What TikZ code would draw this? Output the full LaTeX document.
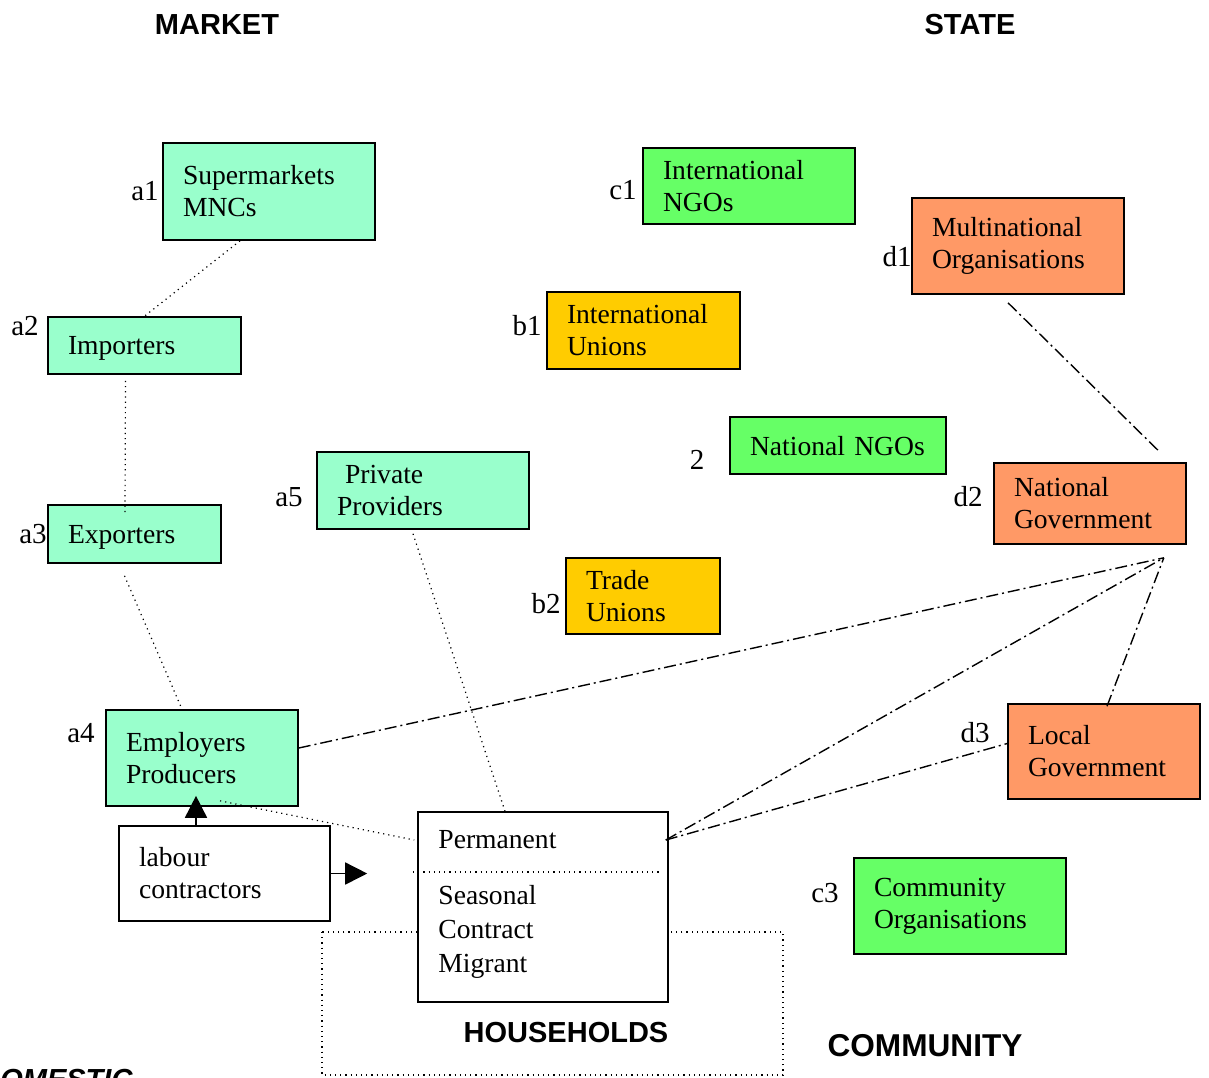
\documentclass[tikz,border=0pt]{standalone}
\usepackage{fontspec}
\setmainfont{Liberation Serif}
\setsansfont{Liberation Sans}
\usetikzlibrary{arrows.meta}

\definecolor{mint}{HTML}{99FFCC}
\definecolor{ngo}{HTML}{66FF66}
\definecolor{union}{HTML}{FFCC00}
\definecolor{gov}{HTML}{FF9966}

\begin{document}
\begin{tikzpicture}[x=0.5pt,y=-0.5pt,
	every node/.style={font=\fontsize{13.8}{16}\selectfont},
	box/.style={draw,line width=0.8pt,inner xsep=10pt,inner ysep=0pt,align=left},
	tag/.style={inner sep=0pt,font=\fontsize{14.5}{16}\selectfont},
	txt/.style={inner sep=0pt,align=left,font=\fontsize{13.8}{17}\selectfont},
	head/.style={inner sep=0pt,font=\sffamily\bfseries\fontsize{14.5}{17}\selectfont},
	dots/.style={dotted,line width=0.6pt},
	dashdot/.style={line width=0.7pt,dash pattern=on 6pt off 2pt on 1pt off 2pt},
	big/.style={-{Triangle[length=11pt,width=11pt]},line width=0.8pt}]

		\useasboundingbox (0,0) rectangle (1209,1077);

		%% headings
		\node[head] at (217,25)(market){MARKET};
		\node[head] at (970,25)(state){STATE};
		\node[head] at (566,1032)(house){HOUSEHOLDS};
		\node[head,font=\sffamily\bfseries\fontsize{15.8}{18}\selectfont] at (925,1046)(comm){COMMUNITY};
		\node[head,font=\sffamily\bfseries\itshape\fontsize{14.5}{17}\selectfont,anchor=base west] at (-21,1089)(dom){DOMESTIC};

		%% market
		\node[box,fill=mint,text width=86pt,minimum height=48.5pt] at (269,191.5)(sup){Supermarkets\\MNCs};
		\node[box,fill=mint,text width=76.5pt,minimum height=28.5pt,text depth=0pt] at (144.5,345.5)(imp){Importers};
		\node[box,fill=mint,text width=66.5pt,minimum height=29pt,text depth=0pt] at (134.5,534)(exp){Exporters};
		\node[box,fill=mint,text width=76pt,minimum height=48pt] at (202,758)(emp){Employers\\Producers};
		\node[box,fill=mint,text width=86pt,minimum height=38.5pt] at (423,490.5)(prov){\hspace{4pt}Private\\Providers};

		\node[tag] at (145,191)(a1){a1};
		\node[tag] at (25,326)(a2){a2};
		\node[tag] at (33,534)(a3){a3};
		\node[tag] at (81,733)(a4){a4};
		\node[tag] at (289,497)(a5){a5};

		%% ngos and unions
		\node[box,fill=ngo,text width=86pt,minimum height=38pt] at (749,186)(ingo){International\\NGOs};
		\node[box,fill=union,text width=76.5pt,minimum height=38.5pt] at (643.5,330.5)(iun){International\\Unions};
		\node[box,fill=ngo,text width=88pt,minimum height=28.5pt,text depth=0pt] at (838,445.5)(nngo){National NGOs};
		\node[box,fill=union,text width=57pt,minimum height=38pt] at (643,596)(tun){Trade\\Unions};
		\node[box,fill=ngo,text width=86pt,minimum height=48pt] at (960,906)(corg){Community\\Organisations};

		\node[tag] at (623,190)(c1){c1};
		\node[tag] at (527,326)(b1){b1};
		\node[tag] at (697,460)(n2){2};
		\node[tag] at (546,604)(b2){b2};
		\node[tag] at (825,893)(c3){c3};

		%% state
		\node[box,fill=gov,text width=86pt,minimum height=48pt] at (1018,246)(mno){Multinational\\Organisations};
		\node[box,fill=gov,text width=76pt,minimum height=40.5pt] at (1090,503.5)(ngov){National\\Government};
		\node[box,fill=gov,text width=76pt,minimum height=47.5pt] at (1104,751.5)(lgov){Local\\Government};

		\node[tag] at (897,257)(d1){d1};
		\node[tag] at (968,497)(d2){d2};
		\node[tag] at (975,733)(d3){d3};

		\coordinate (hub) at ([xshift=-11.5pt,yshift=-6.5pt]ngov.south east);

		%% households
		\draw[dots] (322,932) rectangle (783,1075);
		\node[draw,fill=white,line width=0.8pt,minimum width=125pt,minimum height=95pt] at (543,907)(worker){};
		\draw[dots] (413,872) -- (662,872);
		\node[txt,anchor=west] at (438,840)(perm){Permanent};
		\node[txt,anchor=west] at (438,932)(kinds){Seasonal\\Contract\\Migrant};

		\node[box,fill=white,text width=85.5pt,minimum height=47.5pt] at (224.5,873.5)(lab){labour\\contractors};

		%% links
		\path[dots] ([xshift=-14.5pt]sup.south) edge (imp.north)
			([xshift=-9.5pt,yshift=-3pt]imp.south) edge ([xshift=-4.75pt,yshift=-4pt]exp.north)
			([xshift=-5pt,yshift=-6pt]exp.south) edge ([xshift=-10pt]emp.north)
			([xshift=9pt,yshift=3pt]emp.south) edge ([xshift=-1.5pt]worker.west |- perm)
			([xshift=-5pt,yshift=-2pt]prov.south) edge ([xshift=4pt,yshift=9pt]perm.north);

		\path[dashdot] ([xshift=-5pt,yshift=-4pt]mno.south) edge ([xshift=35pt,yshift=5pt]ngov.north)
			([yshift=5pt]emp.east) edge (hub)
			([xshift=-1.5pt]worker.east |- perm) edge (hub)
			([xshift=-1.5pt]worker.east |- perm) edge ([yshift=4pt]lgov.west)
			([xshift=1.5pt,yshift=-1.5pt]lgov.north) edge (hub);

		\draw[big] ([xshift=-14.25pt]lab.north) -- ([xshift=-3pt,yshift=5.5pt]emp.south);
		\draw[big,shorten >=25pt] (lab.east) -- (worker.west |- lab.east);
	\end{tikzpicture}
\end{document}
